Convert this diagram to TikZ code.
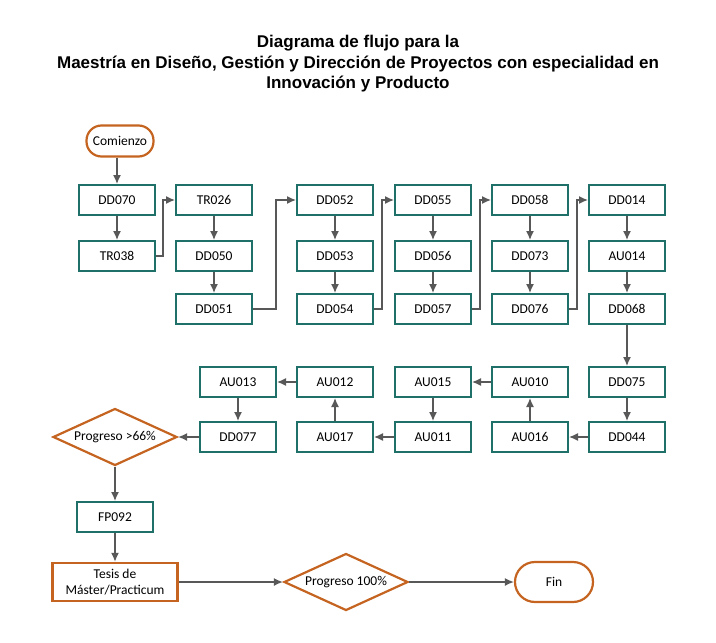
\documentclass[tikz,border=0pt]{standalone}
\usepackage{fontspec}
\setmainfont{Carlito}
\newfontfamily\titlefont{Liberation Sans}
\usetikzlibrary{shapes.geometric,arrows.meta}
\definecolor{boxteal}{RGB}{30,112,104}
\definecolor{floworange}{RGB}{196,100,32}
\definecolor{linegray}{RGB}{88,88,88}

\begin{document}
\begin{tikzpicture}[x=1pt,y=-1pt,
	flow/.style={-{Latex[length=9pt,width=8pt]}, draw=linegray, line width=1.4pt},
	course/.style={rectangle,draw=boxteal,line width=2pt,fill=white,
		minimum width=76pt,minimum height=30pt,inner sep=0pt,font=\fontsize{13.5}{15}\selectfont},
	terminal/.style={rectangle,rounded corners=15pt,draw=floworange,line width=2.2pt,
		inner sep=0pt,font=\fontsize{13.5}{15}\selectfont},
	decision/.style={diamond,aspect=2.2,draw=floworange,line width=2.2pt,inner sep=0pt,
		minimum width=124pt,minimum height=57pt,font=\fontsize{13.5}{15}\selectfont},
	thesis/.style={rectangle,draw=floworange,line width=2.4pt,inner sep=0pt,align=center,
		minimum width=125pt,minimum height=38pt,font=\fontsize{13.5}{16}\selectfont}]

\useasboundingbox (0,0) rectangle (716,643);

\node[font=\titlefont\bfseries\fontsize{17}{20.5}\selectfont,align=center] (title) at (358,64)
	{Diagrama de flujo para la\\Maestría en Diseño, Gestión y Dirección de Proyectos con especialidad en\\Innovación y Producto};

% upper block
\node[terminal,minimum width=67pt,minimum height=31pt] (start) at (120,141) {Comienzo};
\node[course] (dd070) at (117,200) {DD070};
\node[course] (tr038) at (117,256) {TR038};
\node[course] (tr026) at (214,200) {TR026};
\node[course] (dd050) at (214,256) {DD050};
\node[course] (dd051) at (214,309) {DD051};
\node[course] (dd052) at (335,200) {DD052};
\node[course] (dd053) at (335,256) {DD053};
\node[course] (dd054) at (335,309) {DD054};
\node[course] (dd055) at (433,200) {DD055};
\node[course] (dd056) at (433,256) {DD056};
\node[course] (dd057) at (433,309) {DD057};
\node[course] (dd058) at (530,200) {DD058};
\node[course] (dd073) at (530,256) {DD073};
\node[course] (dd076) at (530,309) {DD076};
\node[course] (dd014) at (627,200) {DD014};
\node[course] (au014) at (627,256) {AU014};
\node[course] (dd068) at (627,309) {DD068};

% lower block
\node[course] (dd075) at (627,382) {DD075};
\node[course] (dd044) at (627,437) {DD044};
\node[course] (au010) at (530,382) {AU010};
\node[course] (au016) at (530,437) {AU016};
\node[course] (au015) at (433,382) {AU015};
\node[course] (au011) at (433,437) {AU011};
\node[course] (au012) at (335,382) {AU012};
\node[course] (au017) at (335,437) {AU017};
\node[course] (au013) at (238,382) {AU013};
\node[course] (dd077) at (238,437) {DD077};

\node[decision] (prog66) at (115,437) {Progreso >66\%};
\node[course] (fp092) at (115,517) {FP092};
\node[thesis] (tesis) at (115,582) {Tesis de\\Máster/Practicum};
\node[decision] (prog100) at (346,582) {Progreso 100\%};
\node[terminal,minimum width=78pt,minimum height=40pt,rounded corners=20pt] (fin) at (554,582) {Fin};

\draw[flow] (start.south -| dd070) -- (dd070);
\draw[flow] (dd070) -- (tr038);
\draw[flow] (tr038.east) -- ++(7,0) |- (tr026.west);
\draw[flow] (tr026) -- (dd050);
\draw[flow] (dd050) -- (dd051);
\draw[flow] (dd051.east) -- ++(23,0) |- (dd052.west);
\draw[flow] (dd052) -- (dd053);
\draw[flow] (dd053) -- (dd054);
\draw[flow] (dd054.east) -- ++(8,0) |- (dd055.west);
\draw[flow] (dd055) -- (dd056);
\draw[flow] (dd056) -- (dd057);
\draw[flow] (dd057.east) -- ++(8,0) |- (dd058.west);
\draw[flow] (dd058) -- (dd073);
\draw[flow] (dd073) -- (dd076);
\draw[flow] (dd076.east) -- ++(8,0) |- (dd014.west);
\draw[flow] (dd014) -- (au014);
\draw[flow] (au014) -- (dd068);
\draw[flow] (dd068) -- (dd075);
\draw[flow] (dd075) -- (dd044);
\draw[flow] (dd044) -- (au016);
\draw[flow] (au016) -- (au010);
\draw[flow] (au010) -- (au015);
\draw[flow] (au015) -- (au011);
\draw[flow] (au011) -- (au017);
\draw[flow] (au017) -- (au012);
\draw[flow] (au012) -- (au013);
\draw[flow] (au013) -- (dd077);
\draw[flow] (dd077) -- (prog66);
\draw[flow] (prog66) -- (fp092);
\draw[flow] (fp092) -- (tesis);
\draw[flow] (tesis) -- (prog100);
\draw[flow] (prog100) -- (fin);
\end{tikzpicture}
\end{document}
